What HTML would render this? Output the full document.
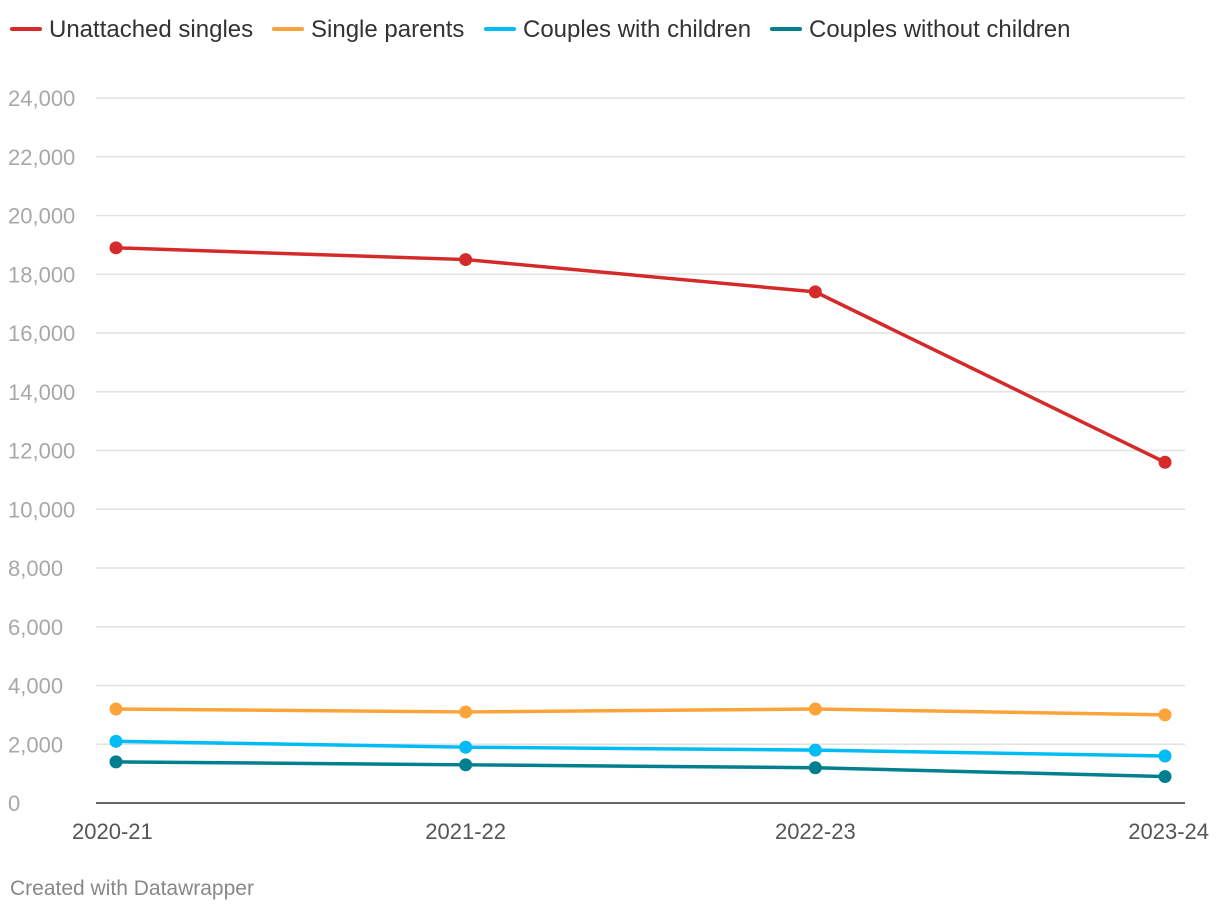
<!DOCTYPE html>
<html><head><meta charset="utf-8"><style>
body{margin:0;background:#fff;width:1220px;height:912px;overflow:hidden;font-family:"Liberation Sans",Arial,sans-serif}
</style></head><body>
<svg id="chart" width="1220" height="912" xmlns="http://www.w3.org/2000/svg"></svg>
<script>
const categories=["2020-21","2021-22","2022-23","2023-24"];
const seriesNames=["Unattached singles","Single parents","Couples with children","Couples without children"];
const seriesColors=["#d52a2a","#fca43a","#00bcf4","#00808f"];
const unattached=[18900,18500,17400,11600];
const singleParents=[3200,3100,3200,3000];
const couplesWith=[2100,1900,1800,1600];
const couplesWithout=[1400,1300,1200,900];
const yTicks=[0,2000,4000,6000,8000,10000,12000,14000,16000,18000,20000,22000,24000];
const allSeries=[unattached,singleParents,couplesWith,couplesWithout];
const NS="http://www.w3.org/2000/svg";
const svg=document.getElementById('chart');
const y0=803,yTop=98,yMax=24000,x0=116,x1=1165,gL=96,gR=1185;
const yS=v=>y0-(v/yMax)*(y0-yTop);
const xS=i=>x0+i*(x1-x0)/(categories.length-1);
function mk(t,a){const e=document.createElementNS(NS,t);for(const k in a)e.setAttribute(k,a[k]);svg.appendChild(e);return e;}
yTicks.forEach(v=>{
  if(v>0){const l=mk('line',{x1:gL,x2:gR,y1:yS(v),y2:yS(v),stroke:'#e2e2e2','stroke-width':1.5});
  
  }
  const t=mk('text',{x:8,y:yS(v)+8,fill:'#a8a8a8','font-size':22});
  t.textContent=v.toLocaleString('en-US');
  
  
});
const ax=mk('line',{x1:gL,x2:gR,y1:y0,y2:y0,stroke:'#333','stroke-width':1.5});


categories.forEach((c,i)=>{
  const anchor=i==0?'start':(i==categories.length-1?'end':'middle');
  const xx=i==0?72:(i==categories.length-1?1209:xS(i));
  const t=mk('text',{x:xx,y:839,fill:'#555','font-size':22,'text-anchor':anchor});
  t.textContent=c;
  
  
});
allSeries.forEach((s,si)=>{
  const p=mk('polyline',{points:s.map((v,i)=>xS(i)+','+yS(v)).join(' '),fill:'none',stroke:seriesColors[si],'stroke-width':3.5,'stroke-linejoin':'round'});
  
  
  s.forEach((v,i)=>{
    const c=mk('circle',{cx:xS(i),cy:yS(v),r:6.5,fill:seriesColors[si]});
    
    
  });
});
const legX=[10,272,484,770];
seriesNames.forEach((n,i)=>{
  const l=mk('line',{x1:legX[i]+2,x2:legX[i]+30,y1:29,y2:29,stroke:seriesColors[i],'stroke-width':4,'stroke-linecap':'round'});
  
  
  const t=mk('text',{x:legX[i]+39,y:37,fill:'#333','font-size':24});
  t.textContent=n;
  
  
});
const cr=mk('text',{x:10,y:895,fill:'#888','font-size':21});
cr.textContent='Created with Datawrapper';


</script>
</body></html>
